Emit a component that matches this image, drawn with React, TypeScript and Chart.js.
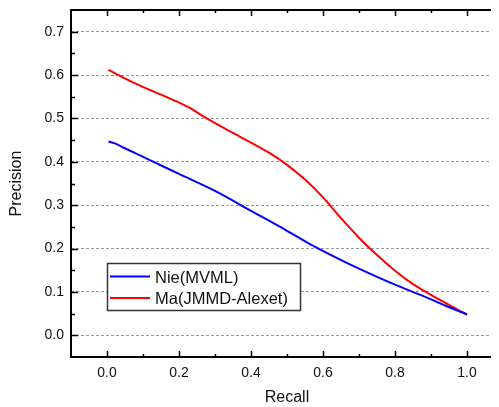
import React, { useEffect, useRef } from 'react';
import { Chart, registerables } from 'chart.js';

Chart.register(...registerables);

const seriesLabels = ['Nie(MVML)', 'Ma(JMMD-Alexet)'];
const seriesColors = ['#0000ff', '#ff0000'];

const recallNie = [0.004, 0.02, 0.045, 0.119, 0.2, 0.3, 0.4, 0.5, 0.573, 0.666, 0.758, 0.832, 0.897, 0.944, 1.0];
const precisionNie = [0.447, 0.443, 0.433, 0.404, 0.372, 0.333, 0.287, 0.241, 0.206, 0.167, 0.132, 0.106, 0.084, 0.067, 0.048];

const recallMa = [0.004, 0.045, 0.101, 0.166, 0.226, 0.277, 0.351, 0.416, 0.45, 0.5, 0.55, 0.6, 0.65, 0.7, 0.75, 0.8, 0.85, 0.9, 0.95, 1.0];
const precisionMa = [0.612, 0.594, 0.572, 0.549, 0.526, 0.5, 0.466, 0.437, 0.421, 0.393, 0.359, 0.318, 0.27, 0.225, 0.185, 0.149, 0.118, 0.093, 0.07, 0.048];

const xTickValues = [0, 0.2, 0.4, 0.6, 0.8, 1.0];
const xMinorValues = [0.1, 0.3, 0.5, 0.7, 0.9];
const yTickValues = [0, 0.1, 0.2, 0.3, 0.4, 0.5, 0.6, 0.7];
const yMinorValues = [0.05, 0.15, 0.25, 0.35, 0.45, 0.55, 0.65];
const xTitle = 'Recall';
const yTitle = 'Precision';

const FONT = "'Liberation Sans', Arial, sans-serif";

const zeroPadding = (s: any) => {
  s.paddingTop = 0;
  s.paddingBottom = 0;
  s.paddingLeft = 0;
  s.paddingRight = 0;
};

const framePlugin = {
  id: 'originFrame',
  afterDraw(chart: any) {
    const { ctx, chartArea, scales } = chart;
    const { left, right, top, bottom } = chartArea;
    const x = scales.x;
    const y = scales.y;
    ctx.save();
    ctx.strokeStyle = '#000';
    ctx.lineWidth = 2;
    ctx.strokeRect(left, top, right - left, bottom - top);
    ctx.lineWidth = 1.5;
    const line = (x1: number, y1: number, x2: number, y2: number) => {
      ctx.beginPath();
      ctx.moveTo(x1, y1);
      ctx.lineTo(x2, y2);
      ctx.stroke();
    };
    xTickValues.forEach((v) => {
      const p = Math.round(x.getPixelForValue(v)) + 0.5;
      line(p, bottom, p, bottom - 6);
      line(p, top, p, top + 6);
    });
    xMinorValues.forEach((v) => {
      const p = Math.round(x.getPixelForValue(v)) + 0.5;
      line(p, bottom, p, bottom - 3);
      line(p, top, p, top + 3);
    });
    yTickValues.forEach((v) => {
      const p = Math.round(y.getPixelForValue(v)) + 0.5;
      line(left, p, left + 7, p);
      line(right, p, right - 7, p);
    });
    yMinorValues.forEach((v) => {
      const p = Math.round(y.getPixelForValue(v)) + 0.5;
      line(left, p, left + 4, p);
      line(right, p, right - 4, p);
    });

    // legend
    const lx = left + 36;
    const ly = top + 253;
    const lw = 193;
    const lh = 47;
    ctx.fillStyle = '#fff';
    ctx.fillRect(lx, ly, lw, lh);
    ctx.strokeStyle = '#333';
    ctx.lineWidth = 1.5;
    ctx.strokeRect(lx + 0.5, ly + 0.5, lw, lh);
    ctx.font = `16.5px ${FONT}`;
    ctx.textBaseline = 'middle';
    ctx.textAlign = 'left';
    chart.data.datasets.forEach((ds: any, i: number) => {
      const cy = ly + 13.5 + i * 21.5;
      ctx.strokeStyle = ds.borderColor;
      ctx.lineWidth = 2;
      line(lx + 3, cy, lx + 43, cy);
      ctx.fillStyle = '#111';
      ctx.fillText(ds.label, lx + 48, cy + 1.5);
    });

    // axis titles
    ctx.fillStyle = '#111';
    ctx.font = `16px ${FONT}`;
    ctx.textAlign = 'center';
    ctx.textBaseline = 'middle';
    ctx.fillText(xTitle, (left + right) / 2, bottom + 41);
    ctx.translate(9, (top + bottom) / 2);
    ctx.rotate(-Math.PI / 2);
    ctx.fillText(yTitle, 0, 0);
    ctx.restore();
  },
};

export default function App() {
  const ref = useRef<HTMLCanvasElement | null>(null);
  useEffect(() => {
    if (!ref.current) return;
    const chart = new Chart(ref.current, {
      type: 'line',
      data: {
        datasets: [
          {
            label: seriesLabels[0],
            data: recallNie.map((r, i) => ({ x: r, y: precisionNie[i] })),
            borderColor: seriesColors[0],
            backgroundColor: seriesColors[0],
            borderWidth: 2,
            pointRadius: 0,
            cubicInterpolationMode: 'monotone',
          },
          {
            label: seriesLabels[1],
            data: recallMa.map((r, i) => ({ x: r, y: precisionMa[i] })),
            borderColor: seriesColors[1],
            backgroundColor: seriesColors[1],
            borderWidth: 2,
            pointRadius: 0,
            cubicInterpolationMode: 'monotone',
          },
        ],
      },
      options: {
        animation: false,
        responsive: false,
        devicePixelRatio: 1,
        layout: { padding: { left: 0, right: 10, top: 2, bottom: 0 } },
        plugins: { legend: { display: false }, tooltip: { enabled: false } },
        scales: {
          x: {
            type: 'linear',
            min: -0.1,
            max: 1.1,
            afterBuildTicks: (s: any) => {
              s.ticks = xTickValues.map((v) => ({ value: v }));
            },
            afterFit: (s: any) => {
              s.height = 50;
              zeroPadding(s);
            },
            grid: { display: false, drawTicks: false },
            border: { display: false },
            ticks: {
              padding: 8,
              color: '#111',
              font: { family: FONT, size: 14 },
              maxRotation: 0,
              callback: (v: any) => Number(v).toFixed(1),
            },
          },
          y: {
            type: 'linear',
            min: -0.05,
            max: 0.75,
            afterBuildTicks: (s: any) => {
              s.ticks = yTickValues.map((v) => ({ value: v }));
            },
            afterFit: (s: any) => {
              s.width = 63;
              zeroPadding(s);
            },
            grid: { color: '#999', lineWidth: 1, drawTicks: false },
            border: { display: false, dash: [3, 2] },
            ticks: {
              padding: 7,
              color: '#111',
              font: { family: FONT, size: 14 },
              callback: (v: any) => Number(v).toFixed(1),
            },
          },
        },
      },
      plugins: [framePlugin],
    } as any);
    return () => chart.destroy();
  }, []);
  return (
    <div style={{ width: 491, height: 399, overflow: 'hidden' }}>
      <canvas ref={ref} width={505} height={399} style={{ display: 'block', width: 505, height: 399 }} />
    </div>
  );
}
